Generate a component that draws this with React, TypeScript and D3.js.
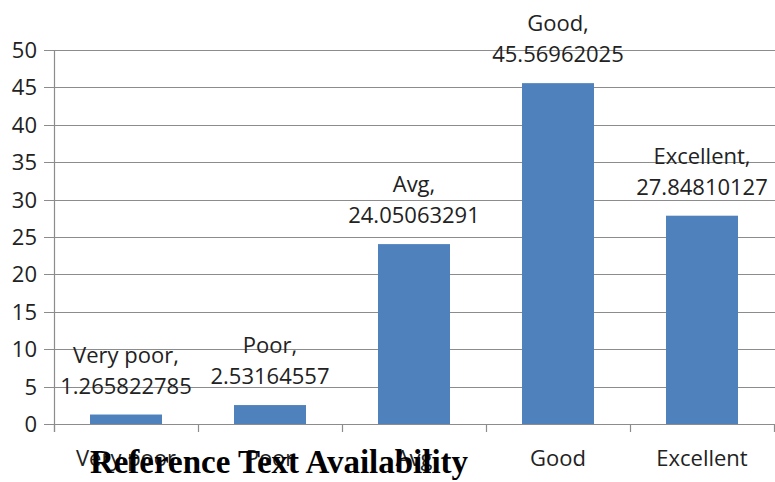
import React, { useEffect, useRef } from 'react';
import * as d3 from 'd3';

const categories = ['Very poor', 'Poor', 'Avg', 'Good', 'Excellent'];
const values = [1.265822785, 2.53164557, 24.05063291, 45.56962025, 27.84810127];
const valueLabels = ['1.265822785', '2.53164557', '24.05063291', '45.56962025', '27.84810127'];
const yTicks = [0, 5, 10, 15, 20, 25, 30, 35, 40, 45, 50];
const title = 'Reference Text Availability';

const width = 775;
const height = 482;
const margin = { top: 50, right: 1, bottom: 58, left: 54 };
const font = "'Open Sans', 'Liberation Sans', sans-serif";

const App: React.FC = () => {
  const svgRef = useRef<SVGSVGElement | null>(null);

  useEffect(() => {
    if (!svgRef.current) return;
    const svg = d3.select(svgRef.current);
    svg.selectAll('*').remove();

    const x = d3.scaleBand<string>()
      .domain(categories)
      .range([margin.left, width - margin.right])
      .paddingInner(0.5)
      .paddingOuter(0.25);

    const y = d3.scaleLinear()
      .domain([0, 50])
      .range([height - margin.bottom, margin.top]);

    // gridlines
    svg.append('g')
      .selectAll('line')
      .data(yTicks)
      .join('line')
      .attr('x1', margin.left - 10)
      .attr('x2', width)
      .attr('y1', d => Math.round(y(d)) + 0.5)
      .attr('y2', d => Math.round(y(d)) + 0.5)
      .attr('stroke', '#8c8c8c')
      .attr('stroke-width', 1.2);

    // y axis line
    svg.append('line')
      .attr('x1', margin.left + 0.5)
      .attr('x2', margin.left + 0.5)
      .attr('y1', y(50))
      .attr('y2', y(0) + 8)
      .attr('stroke', '#8c8c8c')
      .attr('stroke-width', 1.2);

    // x axis ticks between categories
    const bandW = (width - margin.right - margin.left) / categories.length;
    const boundaries = d3.range(categories.length + 1).map(i => margin.left + i * bandW);
    svg.append('g')
      .selectAll('line')
      .data(boundaries)
      .join('line')
      .attr('x1', d => Math.round(d) + 0.5)
      .attr('x2', d => Math.round(d) + 0.5)
      .attr('y1', y(0))
      .attr('y2', y(0) + 8)
      .attr('stroke', '#8c8c8c')
      .attr('stroke-width', 1.2);

    // y tick labels
    svg.append('g')
      .selectAll('text')
      .data(yTicks)
      .join('text')
      .attr('x', 37)
      .attr('y', d => y(d))
      .attr('dy', '0.36em')
      .attr('text-anchor', 'end')
      .attr('font-family', font)
      .attr('font-size', 22)
      .attr('fill', '#222')
      .text(d => d);

    // bars
    svg.append('g')
      .selectAll('rect')
      .data(values)
      .join('rect')
      .attr('x', (_, i) => x(categories[i]) || 0)
      .attr('width', x.bandwidth())
      .attr('y', d => y(d))
      .attr('height', d => y(0) - y(d))
      .attr('fill', '#4f81bd');

    // data labels
    const labels = svg.append('g')
      .selectAll('text')
      .data(values)
      .join('text')
      .attr('text-anchor', 'middle')
      .attr('font-family', font)
      .attr('font-size', 22)
      .attr('fill', '#222');
    labels.append('tspan')
      .attr('x', (_, i) => (x(categories[i]) || 0) + x.bandwidth() / 2)
      .attr('y', d => y(d) - 52)
      .text((_, i) => categories[i] + ',');
    labels.append('tspan')
      .attr('x', (_, i) => (x(categories[i]) || 0) + x.bandwidth() / 2)
      .attr('y', d => y(d) - 21)
      .text((_, i) => valueLabels[i]);

    // x category labels
    svg.append('g')
      .selectAll('text')
      .data(categories)
      .join('text')
      .attr('x', d => (x(d) || 0) + x.bandwidth() / 2)
      .attr('y', 466)
      .attr('text-anchor', 'middle')
      .attr('font-family', font)
      .attr('font-size', 22)
      .attr('fill', '#222')
      .text(d => d);

    // title
    svg.append('text')
      .attr('x', 279)
      .attr('y', 473)
      .attr('text-anchor', 'middle')
      .attr('font-family', "'Liberation Serif', 'Times New Roman', serif")
      .attr('font-weight', 'bold')
      .attr('font-size', 33)
      .attr('fill', '#000')
      .text(title);
  }, []);

  return (
    <svg
      ref={svgRef}
      width={width}
      height={height}
      style={{ position: 'absolute', left: 0, top: 0, background: '#fff' }}
    />
  );
};

export default App;
